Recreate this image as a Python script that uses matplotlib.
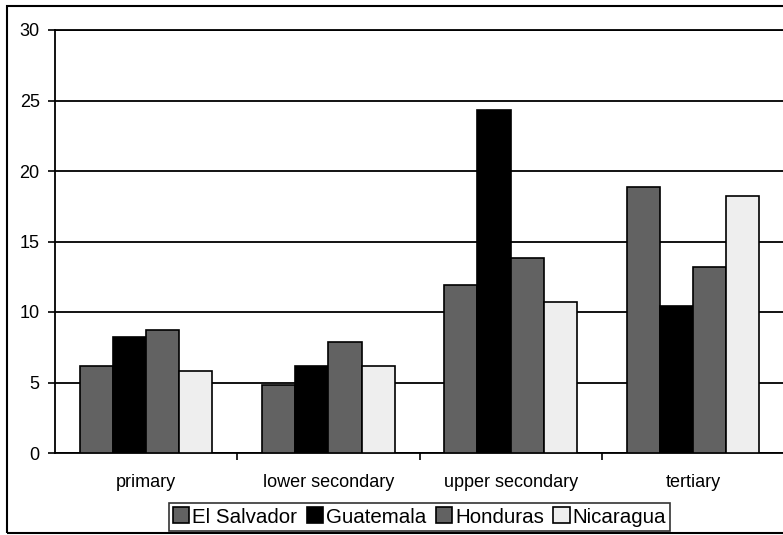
import matplotlib
matplotlib.use("Agg")
import matplotlib.pyplot as plt
import numpy as np
from matplotlib.patches import Rectangle

categories = ["primary", "lower secondary", "upper secondary", "tertiary"]
series = ["El Salvador", "Guatemala", "Honduras", "Nicaragua"]
el_salvador = [6.2, 4.8, 11.9, 18.9]
guatemala = [8.2, 6.2, 24.3, 10.4]
honduras = [8.7, 7.9, 13.8, 13.2]
nicaragua = [5.8, 6.2, 10.7, 18.2]
yticks = [0, 5, 10, 15, 20, 25, 30]

values = [el_salvador, guatemala, honduras, nicaragua]
colors = ["#626262", "#000000", "#626262", "#eeeeee"]

plt.rcParams['font.family'] = ['Liberation Sans', 'DejaVu Sans']
W, H = 783, 535
fig = plt.figure(figsize=(W / 100, H / 100), dpi=100)
ax = fig.add_axes([55 / W, 1 - 453 / H, (784 - 55) / W, (453 - 30) / H])

w = 1 / 5.5
x = np.arange(len(categories))
for i, (name, vals, c) in enumerate(zip(series, values, colors)):
    ax.bar(x + (i - 1.5) * w, vals, width=w, color=c, edgecolor="black",
           linewidth=1.2, label=name, zorder=3)

ax.set_xlim(-0.5, len(categories) - 0.5)
ax.set_ylim(0, 30)
ax.set_yticks(yticks)
ax.set_yticklabels([str(t) for t in yticks], fontsize=13)
ax.yaxis.grid(True, color="black", linewidth=1.3, zorder=0)
ax.set_axisbelow(True)

ax.set_xticks(x)
ax.set_xticklabels(categories, fontsize=13)
ax.tick_params(axis="x", which="major", length=0, pad=15)
ax.set_xticks(np.arange(0.5, len(categories) - 0.5, 1), minor=True)
ax.tick_params(axis="x", which="minor", length=5, width=1.2, direction="out")
ax.tick_params(axis="y", length=5, width=1.2, direction="out", pad=6)

ax.spines["right"].set_visible(False)
for s in ["left", "bottom", "top"]:
    ax.spines[s].set_linewidth(1.3)

leg = ax.legend(loc="center", bbox_to_anchor=(419.5 / W, 1 - 517 / H),
                bbox_transform=fig.transFigure, ncol=4, frameon=True,
                fontsize=14.8, handlelength=0.8, handleheight=0.8,
                handletextpad=0.15, columnspacing=0.45, borderpad=0.2,
                borderaxespad=0.0,
                fancybox=False, edgecolor="black")
leg.get_frame().set_linewidth(1.2)

fig.patches.append(Rectangle((7 / W, 1 - 533 / H), 1.0, (533 - 6) / H,
                             transform=fig.transFigure, fill=False,
                             edgecolor="black", linewidth=1.5, clip_on=False))

fig.savefig("out.png", dpi=100)
